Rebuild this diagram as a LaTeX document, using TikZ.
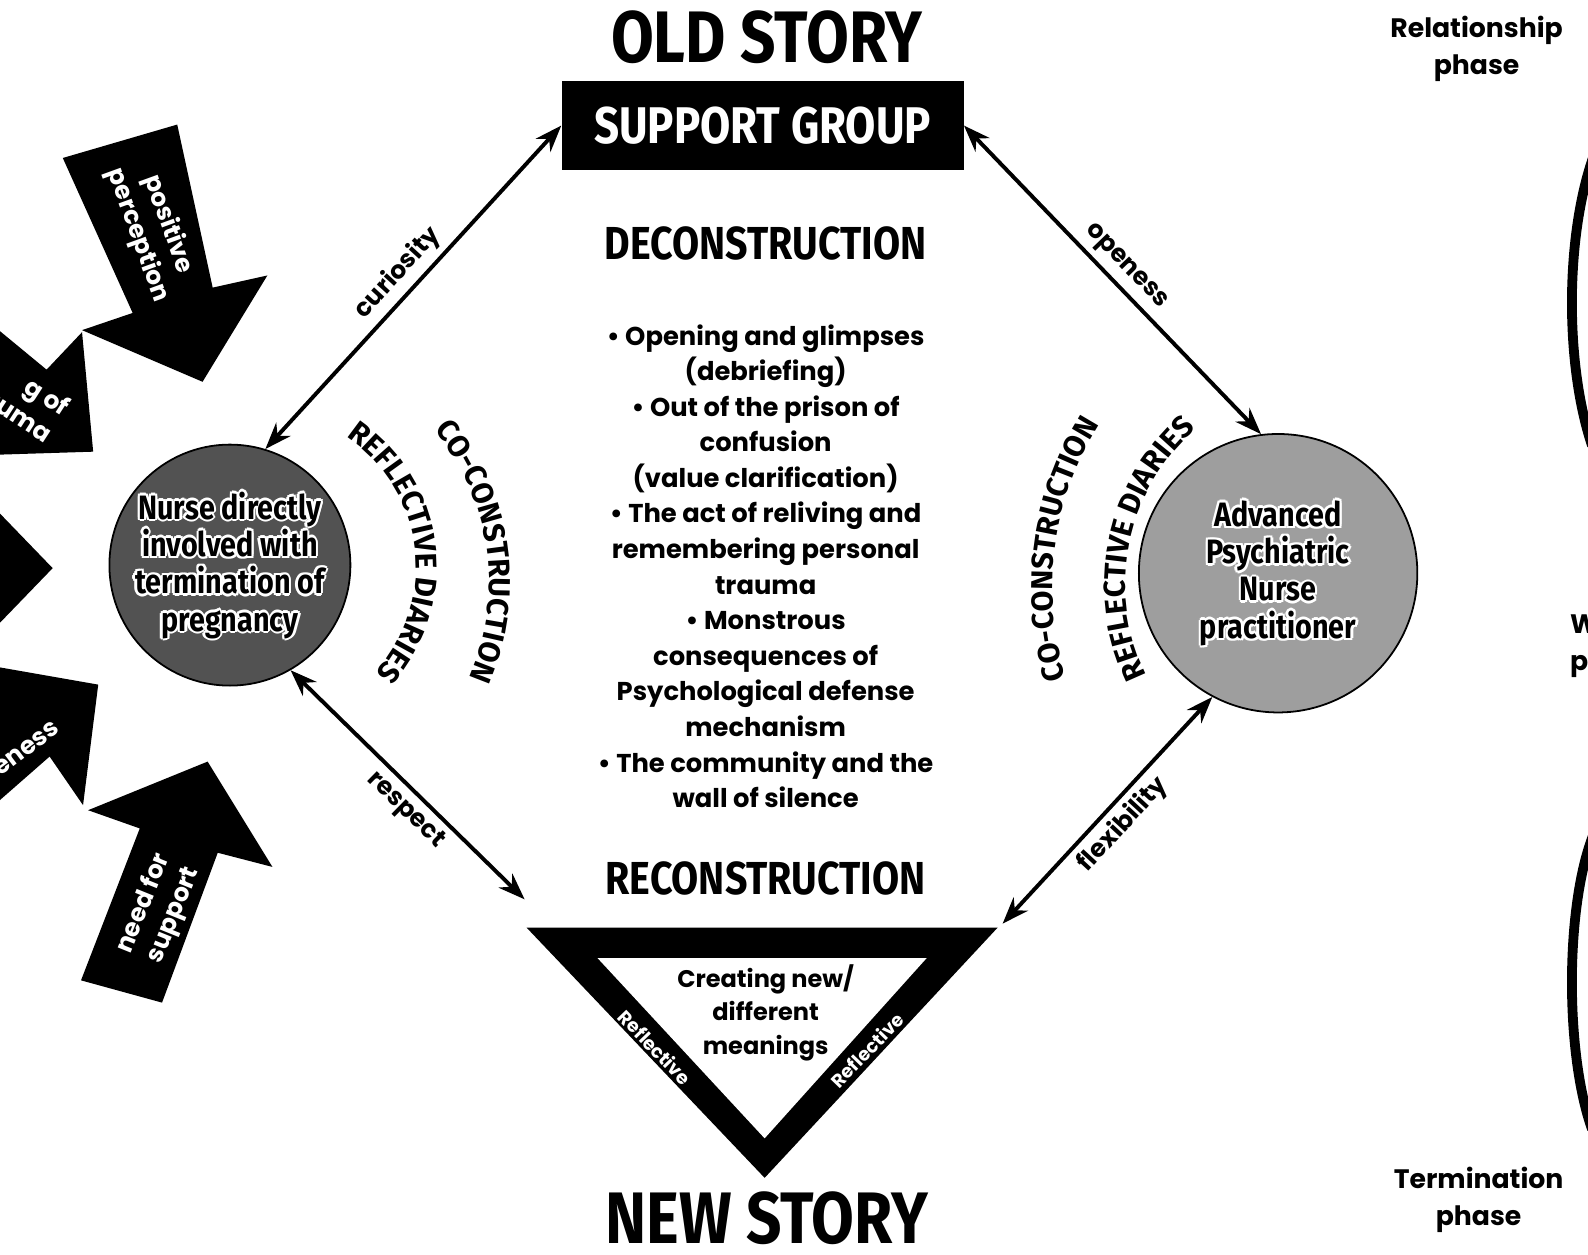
\documentclass[tikz,border=0pt]{standalone}
\usepackage{fontspec}
\setmainfont{Poppins}
\newfontfamily\condfont{Fira Sans}[FakeStretch=0.85]
\newfontfamily\arcfont{Fira Sans}
\usetikzlibrary{arrows.meta, positioning, calc, decorations.text}
\newcommand\nursetext{Nurse directly\\involved with\\termination of\\pregnancy}
\newcommand\aprntext{Advanced\\Psychiatric\\Nurse\\practitioner}
\tikzset{
         mytitle/.style={inner sep=0pt, font=\condfont\bfseries\fontsize{41}{41}\selectfont},
         myhead/.style={font=\condfont\bfseries\fontsize{26}{26}\selectfont},
         mybody/.style={align=center, font=\bfseries\fontsize{14.5}{20}\selectfont},
         mylink/.style={<->, line width=2.2pt},
         mylabel/.style={font=\bfseries\fontsize{14}{14}\selectfont, sloped, midway},
         myball/.style={circle, draw=black, line width=1pt, inner sep=0pt},
         myballtext/.style={align=center, font=\condfont\bfseries\fontsize{19}{21}\selectfont},
         myblock/.style={fill=black},
         myblocktext/.style={text=white, align=center, font=\bfseries\fontsize{14}{18}\selectfont},
         myphase/.style={align=center, font=\bfseries\fontsize{15}{21}\selectfont},
         myarc/.style={decorate, decoration={text along path, text align=center, text={|\arcfont\bfseries\fontsize{17}{17}\selectfont|#1}}}
      }

\begin{document}
\begin{tikzpicture}[x=0.02cm, y=0.02cm, >={Stealth[length=15pt,width=11pt]}]
  \useasboundingbox (0,0) rectangle (1568,-1239);
  \clip (0,0) rectangle (1568,-1239);

  % centre column
  \node[mytitle] (old) at (757,-37) {OLD STORY};
  \node[fill=black, text=white, minimum width=7.94cm, minimum height=1.76cm,
        font=\condfont\bfseries\fontsize{29}{29}\selectfont] (sg) at (753,-124) {SUPPORT GROUP};
  \node[myhead] (decon) at (756,-240) {DECONSTRUCTION};
  \node[mybody] (list) at (756,-559) {%
    • Opening and glimpses\\ (debriefing)\\ • Out of the prison of\\ confusion\\
    (value clarification)\\ • The act of reliving and\\ remembering personal\\ trauma\\
    • Monstrous\\ consequences of\\ Psychological defense\\ mechanism\\
    • The community and the\\ wall of silence};
  \node[myhead] (recon) at (756,-867) {RECONSTRUCTION};
  \node[mytitle] (new) at (757,-1203) {NEW STORY};

  % triangle
  \fill (520,-916) -- (985,-916) -- (755,-1163) -- cycle;
  \fill[white] (590,-946) -- (915,-946) -- (755,-1124) -- cycle;
  \node[align=center, font=\bfseries\fontsize{13.5}{18.8}\selectfont] (mean) at (756,-1000) {Creating new/\\different\\meanings};
  \node[text=white, rotate=-46, font=\bfseries\fontsize{10.5}{10.5}\selectfont] (refl) at (647,-1034) {Reflective};
  \node[text=white, rotate=46, font=\bfseries\fontsize{10.5}{10.5}\selectfont] (refr) at (856,-1037) {Reflective};
  \coordinate (respend) at (518,-888);
  \coordinate (flexend) at (990,-912);

  % the two nurses
  \node[myball, fill=black!68, minimum size=4.76cm] (lcirc) at (227,-558) {};
  \node[myball, fill=black!38, minimum size=5.5cm] (rcirc) at (1262,-566) {};
  \foreach \a [count=\k] in {0,45,...,315} {
    \node[myballtext, text=white, shift={(\a:1.4pt)}] (lhalo\k) at (lcirc) {\nursetext};
    \node[myballtext, text=white, shift={(\a:1.4pt)}] (rhalo\k) at (rcirc) {\aprntext};
  }
  \node[myballtext] (ltext) at (lcirc) {\nursetext};
  \node[myballtext] (rtext) at (rcirc) {\aprntext};

  % links
  \draw[mylink] (lcirc.73) -- (sg.west) node[mylabel, above] {curiosity};
  \draw[mylink] (sg.east) -- (rcirc.97) node[mylabel, above] {openess};
  \draw[mylink] (lcirc.-60) -- (respend) node[mylabel, below, pos=.55] {respect};
  \draw[mylink] (flexend) -- (rcirc.-118) node[mylabel, below] {flexibility};

  % curved words
  \path[myarc=REFLECTIVE DIARIES] (257,-560) ++(77:154) arc[start angle=77, end angle=-63, radius=154];
  \path[myarc=CO-CONSTRUCTION] (246,-575) ++(60:237) arc[start angle=60, end angle=-44, radius=237];
  \path[myarc=REFLECTIVE DIARIES] (1313,-577) ++(228.5:202) arc[start angle=228.5, end angle=108.5, radius=202];
  \path[myarc=CO-CONSTRUCTION] (1340,-580) ++(217.5:301) arc[start angle=217.5, end angle=127.5, radius=301];

  % block arrows on the left
  \fill[myblock] (62,-156) -- (175,-123) -- (210,-284) -- (264,-272) -- (200,-377) -- (81,-326) -- (131,-309) -- cycle;
  \node[myblocktext, rotate=-70] (pos) at (151,-227) {positive\\perception};
  \fill[myblock] (-40,-294) -- (46,-365) -- (81,-328) -- (92,-446) -- (-35,-450) -- (0,-413) -- (-62,-362) -- cycle;
  \node[myblocktext, align=right, rotate=-33] (trau) at (26,-396) {g of\\auma};
  \fill[myblock] (-60,-445) -- (52,-561) -- (-60,-677) -- cycle;
  \fill[myblock] (-40,-652) -- (97,-676) -- (82,-795) -- (49,-747) -- (-40,-825) -- (-80,-700) -- cycle;
  \node[myblocktext, rotate=37] (aware) at (26,-739) {eness};
  \fill[myblock] (205,-752) -- (269,-856) -- (215,-842) -- (160,-990) -- (80,-968) -- (138,-818) -- (87,-800) -- cycle;
  \node[myblocktext, rotate=68] (need) at (157,-898) {need for\\support};

  % phases on the right
  \node[myphase] (relph) at (1458,-48) {Relationship\\phase};
  \node[myphase, align=left, anchor=west] (workph) at (1544,-637) {Working\\phase};
  \node[myphase] (termph) at (1460,-1185) {Termination\\phase};
  \draw[line width=5.5pt] (1575,-150) .. controls (1545,-230) and (1545,-360) .. (1572,-440);
  \draw[line width=5.5pt] (1575,-820) .. controls (1545,-890) and (1545,-1040) .. (1572,-1115);
\end{tikzpicture}
\end{document}
